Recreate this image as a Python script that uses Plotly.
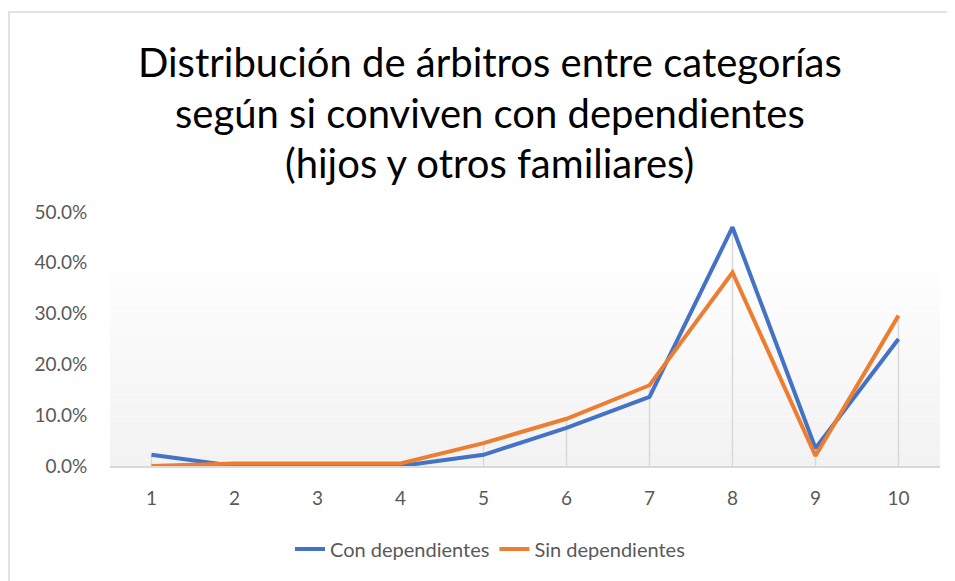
import plotly.graph_objects as go

categories = [1, 2, 3, 4, 5, 6, 7, 8, 9, 10]
con_dependientes = [0.022, 0.0, 0.0, 0.0, 0.022, 0.075, 0.136, 0.470, 0.035, 0.250]
sin_dependientes = [0.0, 0.005, 0.005, 0.005, 0.045, 0.093, 0.159, 0.381, 0.020, 0.296]
title_lines = ["Distribución de árbitros entre categorías",
               "según si conviven con dependientes",
               "(hijos y otros familiares)"]
series_names = ["Con dependientes", "Sin dependientes"]

OFF = 8  # default page margin of the html body
W, H = 955 - OFF, 581 - OFF
L, R, T, B = 110 - OFF, 15, 212 - OFF, 115
plot_h = H - T - B

def py(pix):
    return (H - B - (pix - OFF)) / plot_h

def px(pix):
    return ((pix - OFF) - L) / (W - L - R)

fig = go.Figure()

# drop lines from the axis up to the highest point of each category
dx, dy = [], []
for c, a, b in zip(categories, con_dependientes, sin_dependientes):
    dx += [c, c, None]
    dy += [0, max(a, b), None]
fig.add_trace(go.Scatter(x=dx, y=dy, mode="lines", line=dict(color="#d9d9d9", width=1.5),
                         showlegend=False, hoverinfo="skip"))

colors = ["#4472C4", "#ED7D31"]
for name, vals, col in zip(series_names, [con_dependientes, sin_dependientes], colors):
    fig.add_trace(go.Scatter(x=categories, y=vals, mode="lines", name=name,
                             line=dict(color=col, width=4)))

shapes = []
# vertical gradient in the plot area
n = 40
top = py(245)
for i in range(n):
    t = i / (n - 1)
    v = round(255 - (255 - 242) * (1 - t))
    shapes.append(dict(type="rect", xref="paper", yref="paper", x0=0, x1=1,
                       y0=top * i / n, y1=top * (i + 1) / n,
                       fillcolor=f"rgb({v},{v},{v})", line=dict(width=0), layer="below"))
# chart border
shapes.append(dict(type="rect", xref="paper", yref="paper", x0=px(9), x1=px(975),
                   y0=py(600), y1=py(12), line=dict(color="#d9d9d9", width=1.5),
                   fillcolor="rgba(0,0,0,0)", layer="below"))

annotations = []
for line, ypix in zip(title_lines, [62, 113, 163]):
    annotations.append(dict(text=line, xref="paper", yref="paper", x=px(489.5), y=py(ypix),
                            xanchor="center", yanchor="middle", showarrow=False,
                            font=dict(family="Lato", size=40, color="#000000")))

fig.update_layout(
    width=W, height=H,
    margin=dict(l=L, r=R, t=T, b=B),
    paper_bgcolor="white", plot_bgcolor="white",
    shapes=shapes, annotations=annotations,
    showlegend=True,
    legend=dict(orientation="h", x=px(490), xanchor="center", y=py(549), yanchor="middle",
                font=dict(family="Lato", size=20, color="#595959")),
    font=dict(family="Lato", color="#595959"),
)
fig.update_xaxes(type="linear", range=[0.5, 10.5], tickmode="array", tickvals=categories,
                 ticktext=[str(c) for c in categories], showgrid=False, zeroline=False,
                 showline=True, linecolor="#d9d9d9", linewidth=1.5,
                 ticks="outside", ticklen=14, tickcolor="rgba(0,0,0,0)",
                 tickfont=dict(family="Lato", size=19, color="#595959"))
fig.update_yaxes(range=[0, 0.5], dtick=0.1, tickformat=".1%", showgrid=False, zeroline=False,
                 showline=False, ticks="outside", ticklen=18, tickcolor="rgba(0,0,0,0)",
                 tickfont=dict(family="Lato", size=19, color="#595959"))

fig.write_html("out.html")
